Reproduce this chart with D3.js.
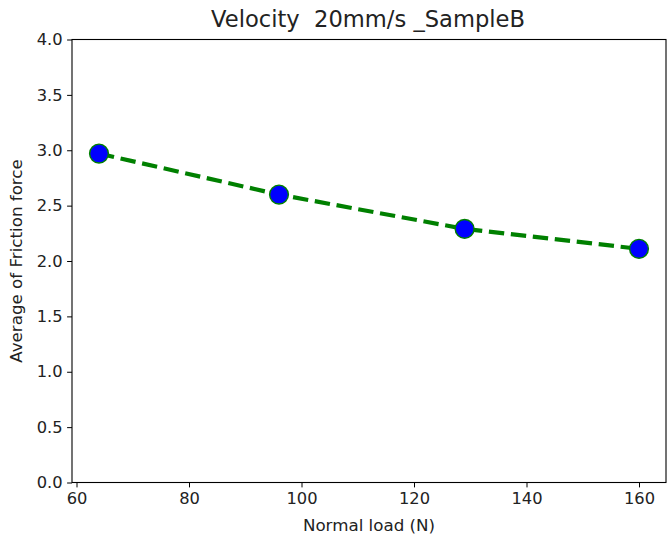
<!DOCTYPE html>
<html>
<head>
<meta charset="utf-8">
<script src="https://cdn.jsdelivr.net/npm/d3@7"></script>
<style>
  body { margin: 0; background: #fff; }
  svg { display: block; }
  text { font-family: "DejaVu Sans", sans-serif; }
</style>
</head>
<body>
<svg id="chart" width="667" height="541"></svg>
<script>
// Measured friction at each normal load
const loads = [64, 96, 129, 160];
const friction = [2.97, 2.60, 2.29, 2.11];
const xTicks = [60, 80, 100, 120, 140, 160];
const yTicks = [0, 0.5, 1.0, 1.5, 2.0, 2.5, 3.0, 3.5, 4.0];

const svg = d3.select("#chart");
const plotL = 72, plotR = 666, plotT = 39.5, plotB = 482.5;
const FONT = "DejaVu Sans, sans-serif";

const x = d3.scaleLinear().domain([59.2, 164.8]).range([plotL, plotR]);
const y = d3.scaleLinear().domain([0, 4]).range([plotB, plotT]);

// Axes
const xAxis = d3.axisBottom(x).tickValues(xTicks).tickFormat(d3.format("d")).tickSizeOuter(0).tickSize(4.9).tickPadding(5.5);
const yAxis = d3.axisLeft(y).tickValues(yTicks).tickFormat(d3.format(".1f")).tickSizeOuter(0).tickSize(4.9).tickPadding(4.5);

const gx = svg.append("g").attr("transform", `translate(0,${plotB})`).call(xAxis);
const gy = svg.append("g").attr("transform", `translate(${plotL},0)`).call(yAxis);
[gx, gy].forEach(g => {
  g.attr("font-family", FONT).attr("font-size", 16.3);
  g.select(".domain").remove();
  g.selectAll("line").attr("stroke", "#000").attr("stroke-width", 1);
  g.selectAll("text").attr("fill", "#222");
});

// Frame
svg.append("rect")
  .attr("x", plotL).attr("y", plotT)
  .attr("width", plotR - plotL).attr("height", plotB - plotT)
  .attr("fill", "none").attr("stroke", "#000").attr("stroke-width", 1.1);

// Dashed series line
const pts = loads.map((d, i) => [d, friction[i]]);
svg.append("path")
  .datum(pts)
  .attr("d", d3.line().x(d => x(d[0])).y(d => y(d[1])))
  .attr("fill", "none")
  .attr("stroke", "green")
  .attr("stroke-width", 4.2)
  .attr("stroke-dasharray", "15.4,6.7");

// Markers
svg.selectAll("circle.pt")
  .data(pts)
  .enter().append("circle")
  .attr("class", "pt")
  .attr("cx", d => x(d[0]))
  .attr("cy", d => y(d[1]))
  .attr("r", 9.4)
  .attr("fill", "blue")
  .attr("stroke", "green")
  .attr("stroke-width", 1.4);

// Titles
svg.append("text")
  .attr("x", (plotL + plotR) / 2 - 1).attr("y", 27)
  .attr("text-anchor", "middle")
  .attr("font-family", FONT)
  .attr("font-size", 22.6)
  .attr("fill", "#222")
  .attr("xml:space", "preserve")
  .text("Velocity  20mm/s _SampleB");

svg.append("text")
  .attr("x", (plotL + plotR) / 2).attr("y", 531)
  .attr("text-anchor", "middle")
  .attr("font-family", FONT)
  .attr("font-size", 16.7)
  .attr("fill", "#222")
  .text("Normal load (N)");

svg.append("text")
  .attr("transform", `translate(22,${(plotT + plotB) / 2}) rotate(-90)`)
  .attr("text-anchor", "middle")
  .attr("font-family", FONT)
  .attr("font-size", 16.7)
  .attr("fill", "#222")
  .text("Average of Friction force");
</script>
</body>
</html>
